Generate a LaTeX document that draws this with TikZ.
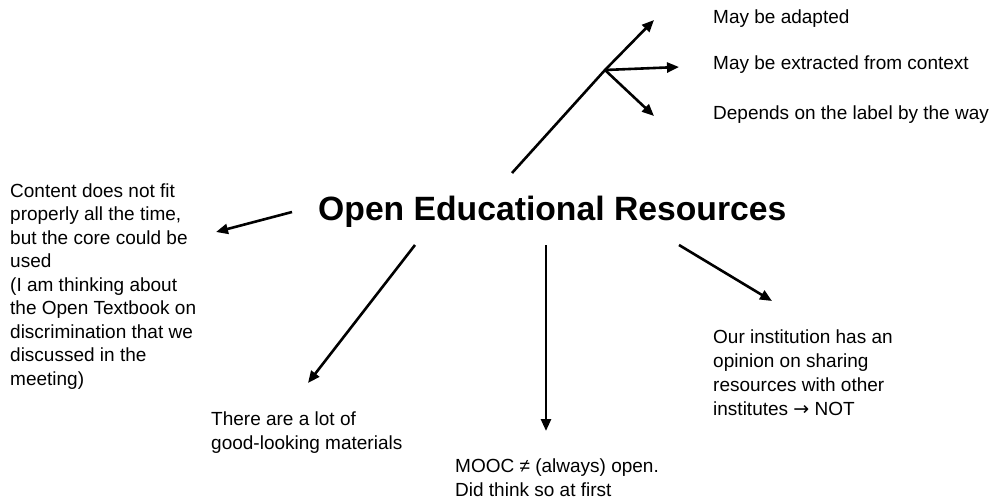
\documentclass[tikz,border=0pt]{standalone}
\usepackage{fontspec}
\setmainfont{Liberation Sans}
\newfontfamily\arrowfont{DejaVu Sans}
\usetikzlibrary{arrows.meta}
\begin{document}
\begin{tikzpicture}[x=1pt,y=-1pt,
  txt/.style={anchor=base west,inner sep=0pt,align=left,font=\fontsize{19}{24}\selectfont},
  conn/.style={line width=2.6pt,-{Triangle[length=12pt,width=10pt]}}]
\useasboundingbox (0,0) rectangle (991,498);
% title
\node[anchor=base west,inner sep=0pt,font=\fontsize{33.7}{40}\selectfont\bfseries] (title) at (318,220) {Open Educational Resources};
% texts (base = baseline of the last line)
\node[txt] (t1) at (713,23.5) {May be adapted};
\node[txt] (t2) at (713,69.5) {May be extracted from context};
\node[txt] (t3) at (713,119) {Depends on the label by the way};
\node[txt,font=\fontsize{19}{23.5}\selectfont] (left) at (10,385) {Content does not fit\\properly all the time,\\but the core could be\\used\\(I am thinking about\\the Open Textbook on\\discrimination that we\\discussed in the\\meeting)};
\node[txt] (mat) at (211,449) {There are a lot of\\good-looking materials};
\node[txt] (mooc) at (455,496) {MOOC ≠ (always) open.\\Did think so at first};
\node[txt,font=\fontsize{19}{23.7}\selectfont] (inst) at (713,415) {Our institution has an\\opinion on sharing\\resources with other\\institutes {\arrowfont →} NOT};
% connector points
\coordinate (s0) at (512,173);
\coordinate (br) at (605,70);
\coordinate (e1) at (654,20);
\coordinate (e2) at (679,67);
\coordinate (e3) at (654,116);
\coordinate (sL) at (292,212);
\coordinate (eL) at (216,232);
\coordinate (sDL) at (415,245);
\coordinate (eDL) at (308,383);
\coordinate (sD) at (546,245);
\coordinate (eD) at (546,431);
\coordinate (sDR) at (679,245);
\coordinate (eDR) at (772,301);
% connectors
\draw[conn] (s0) -- (br) -- (e1);
\draw[conn] (br) -- (e2);
\draw[conn] (br) -- (e3);
\draw[conn] (sL) -- (eL);
\draw[conn] (sDL) -- (eDL);
\draw[conn] (sD) -- (eD);
\draw[conn] (sDR) -- (eDR);
\end{tikzpicture}
\end{document}
